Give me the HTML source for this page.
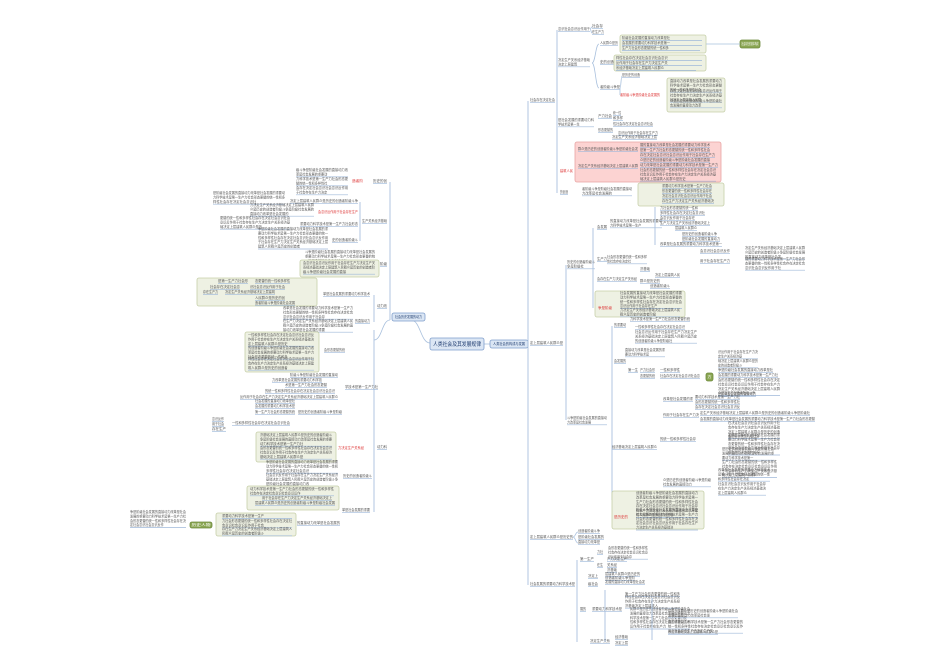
<!DOCTYPE html>
<html><head><meta charset="utf-8"><style>
html,body{margin:0;padding:0;background:#fff;width:950px;height:672px;overflow:hidden}
svg{display:block}
text{font-family:"Liberation Sans","Noto Sans CJK SC",sans-serif}
</style></head><body>
<svg id="s" width="950" height="672" viewBox="0 0 950 672" xmlns="http://www.w3.org/2000/svg"></svg>
<script>
var S='社会存在决定社会意识社会意识反作用于社会存在生产力决定生产关系经济基础决定上层建筑人民群众是历史的创造者阶级斗争是阶级社会发展的直接动力改革是社会发展的重要动力科学技术是第一生产力社会形态更替的统一性和多样性';
var out=[],k=0,SC=0.25;
function str(n){var r='';for(var i=0;i<n;i++){r+=S[(k++)%S.length];}return r;}
function TX(x,y,w,col,fs,anchor,txt){var f=fs/SC;
 out.push('<text transform="translate('+x+' '+y+') scale('+SC+')" font-size="'+f+'" fill="'+col+'" '+(anchor?'text-anchor="middle" ':'')+'textLength="'+(w/SC)+'" lengthAdjust="spacingAndGlyphs">'+txt+'</text>');}
function T(x,y,w,col,fs){fs=fs||3.2;var n=Math.max(2,Math.round(w/fs));TX(x,y,w,col||'#555',fs,false,str(n));}
function L(x,y,w,col){T(x,y,w,col);out.push('<line x1="'+x+'" y1="'+(y+1.3)+'" x2="'+(x+w)+'" y2="'+(y+1.3)+'" stroke="#9fb9da" stroke-width="0.7"/>');}
function P(x,y,w,n,col){for(var i=0;i<n;i++){T(x,y+i*4.4,i==n-1?w*0.6:w,col);}out.push('<line x1="'+x+'" y1="'+(y+(n-1)*4.4+1.4)+'" x2="'+(x+w)+'" y2="'+(y+(n-1)*4.4+1.4)+'" stroke="#9fb9da" stroke-width="0.7"/>');}
function B(x,y,w,h,f,s){out.push('<rect x="'+x+'" y="'+y+'" width="'+w+'" height="'+h+'" rx="2" fill="'+f+'" stroke="'+s+'" stroke-width="0.8"/>');}
function G(x,y,w,h){B(x,y,w,h,'#eef1e3','#c6cfa8');}
function C(x1,y1,x2,y2){var m=(x1+x2)/2;out.push('<path d="M'+x1+' '+y1+' C'+m+' '+y1+' '+m+' '+y2+' '+x2+' '+y2+'" fill="none" stroke="#a9c0dd" stroke-width="0.8"/>');}
function V(x,y1,y2){out.push('<line x1="'+x+'" y1="'+y1+'" x2="'+x+'" y2="'+y2+'" stroke="#a9c0dd" stroke-width="0.9"/>');}
function N(x,y,w,h,t,fs){B(x,y,w,h,'#dbe6f4','#7f9ecb');TX(x+w/2,y+h/2+fs*0.35,w-6,'#1c3a6e',fs,true,t);}
function D(x,y,w,h,t){B(x,y,w,h,'#8aa653','#6f8a3e');TX(x+w/2,y+h/2+1.1,w-3,'#fff',3.2,true,t);}

// ===== center =====
C(483,344,490,344);
C(430,343,411,320);
N(430,338,54,12,'人类社会及其发展规律',5.5);
N(490,340,38,8,'人类社会的构成与发展',3.4);
N(392,313,33,8,'社会历史发展的动力',3.4);

// ===== right spine =====
V(528,101,585);
L(530,101,25);V(557,30,193);
L(558,30,32);C(590,29,592,27);C(590,29,592,33);L(592,27,11);L(592,33,12);
P(558,61,32,2);
L(600,44,18);L(600,63,14);L(600,88,20);C(592,63,599,44);C(592,63,599,88);
G(620,35,86,18);P(622,39,80,1);P(622,44,80,1);P(622,49,78,1);
D(740,40,20,8,'社会存在的基本构成');C(706,44,740,44);
G(614,55,92,16);P(616,59,86,1);P(616,64,86,1);P(616,69,80,1);
L(622,76,18);T(620,96,40,'#d33');C(620,88,622,76);C(620,88,620,95);
G(667,78,58,34);P(670,82,52,3);P(670,92,52,3);P(670,102,52,2);
P(558,121,36,2);L(598,117,14);L(598,131,15);
L(613,114,8);L(613,119,10);L(613,125,40);L(618,134,40);L(612,138,45);
B(575,142,146,40,'#fcd3d2','#e8a4a3');T(560,172,13,'#d33');
L(578,150,60);L(640,146,70);L(640,151,70);L(640,156,75);
L(578,167,60);L(640,161,70);L(640,166,78);P(640,171,76,3);
L(560,193,8);P(582,190,50,2);
G(638,183,86,23);L(662,187,50);L(662,192,50);L(662,197,50);L(662,202,52);

// 社会基本矛盾及其运动规律
L(530,344,33);V(566,265,420);
P(567,263,28,2);V(593,228,308);
L(597,228,10);P(610,222,52,2);V(655,207,245);
L(660,209,38);L(660,214,45);L(660,219,35);L(660,224,50);L(675,229,22);L(682,235,35);L(682,240,38);L(660,245,62);
L(597,260,10);P(607,258,40,2);L(700,252,30);L(700,262,30);P(745,249,60,3);P(745,260,60,3);
L(597,280,40);L(640,270,10);L(655,276,25);L(640,282,20);L(650,287,20);
G(595,291,90,26);T(598,309,14,'#d33');P(620,294,62,4);P(620,311,60,2);
P(567,419,40,2);V(612,326,500);
L(614,326,12);L(630,320,60);L(635,328,50);P(635,333,62,3);
L(614,362,12);P(625,351,40,2);L(628,371,10);L(640,371,15);L(640,377,15);L(660,371,20);L(660,377,40);
D(706,373,7,8,'方');
P(718,353,40,2);P(718,362,40,2);L(718,371,55);L(718,376,60);P(718,381,62,4);L(718,395,38);
L(663,400,30);L(695,398,45);L(695,403,45);L(695,408,45);
L(663,416,36);L(700,414,110);L(700,420,115);
L(660,440,36);P(728,424,52,4);P(728,436,52,5);
L(612,448,45);P(722,450,52,3);P(722,463,55,4);
P(663,481,48,2);P(718,471,52,3);P(718,485,48,3);
G(612,491,92,38);T(614,518,14,'#d33');P(636,494,62,6);P(636,511,62,5);

// 人类社会发展
L(530,538,43);L(578,532,22);L(578,538,26);L(578,543,22);C(573,537,578,532);C(573,537,578,543);
// 社会形态更替
L(530,585,45);V(577,560,642);
L(580,560,14);L(597,553,6);P(608,549,40,3);L(597,566,6);L(607,560,20);L(607,566,10);L(607,571,10);
L(588,577,10);L(605,575,35);L(605,579,30);L(588,585,10);L(605,583,40);
L(580,610,6);L(592,610,30);L(625,595,55);P(625,598,55,3);P(630,610,60,5);
L(590,642,20);L(615,638,13);L(615,644,13);
P(668,612,70,2);P(668,623,75,3);L(668,633,50);
V(605,590,642);V(652,598,640);

// ===== left spine =====
V(390,182,320);V(374,330,512);C(390,320,374,340);
L(373,182,14);T(352,182,11,'#d33');
P(296,171,52,2);P(296,180,52,2);P(296,189,52,2);
L(362,222,25);V(360,202,241);
L(290,202,68);P(213,194,72,3);
T(318,213,40,'#d33');P(250,206,64,3);
L(300,225,58);P(220,219,70,3);
L(332,241,26);P(258,230,70,5);
L(380,265,7);P(305,253,70,3);G(300,260,79,17);P(303,264,72,3);
L(377,307,10);V(374,295,322);L(323,295,47);
G(197,278,120,28);L(218,282,30);L(255,282,35);L(210,288,30);L(250,288,35);L(203,293,15);L(225,293,50);L(255,299,30);L(255,304,40);
L(355,322,15);P(283,309,70,3);P(283,322,70,3);
L(377,448,10);
L(345,388,33);G(245,332,74,40);L(324,351,21);P(248,336,66,3);P(248,349,66,3);P(248,360,66,3);
L(290,376,48);L(272,381,50);L(285,386,42);L(265,392,70);L(240,398,98);
L(298,413,44);L(255,402,40);L(255,407,40);L(255,413,40);
L(232,424,58);L(212,420,12);L(212,425,12);L(212,430,14);
G(256,432,80,30);T(338,449,26,'#d33');P(260,436,72,3);P(260,449,72,3);
L(343,477,29);P(266,463,72,3);P(266,476,72,3);
L(342,511,28);G(247,486,92,24);P(250,490,84,2);L(262,499,70);L(255,504,80);
L(297,524,43);G(216,513,80,23);P(222,517,70,1);P(222,522,70,2);P(222,530,70,2);
D(190,522,22,6,'历史人物');P(130,513,56,4);

document.getElementById('s').innerHTML=out.join('');
</script>
</body></html>
